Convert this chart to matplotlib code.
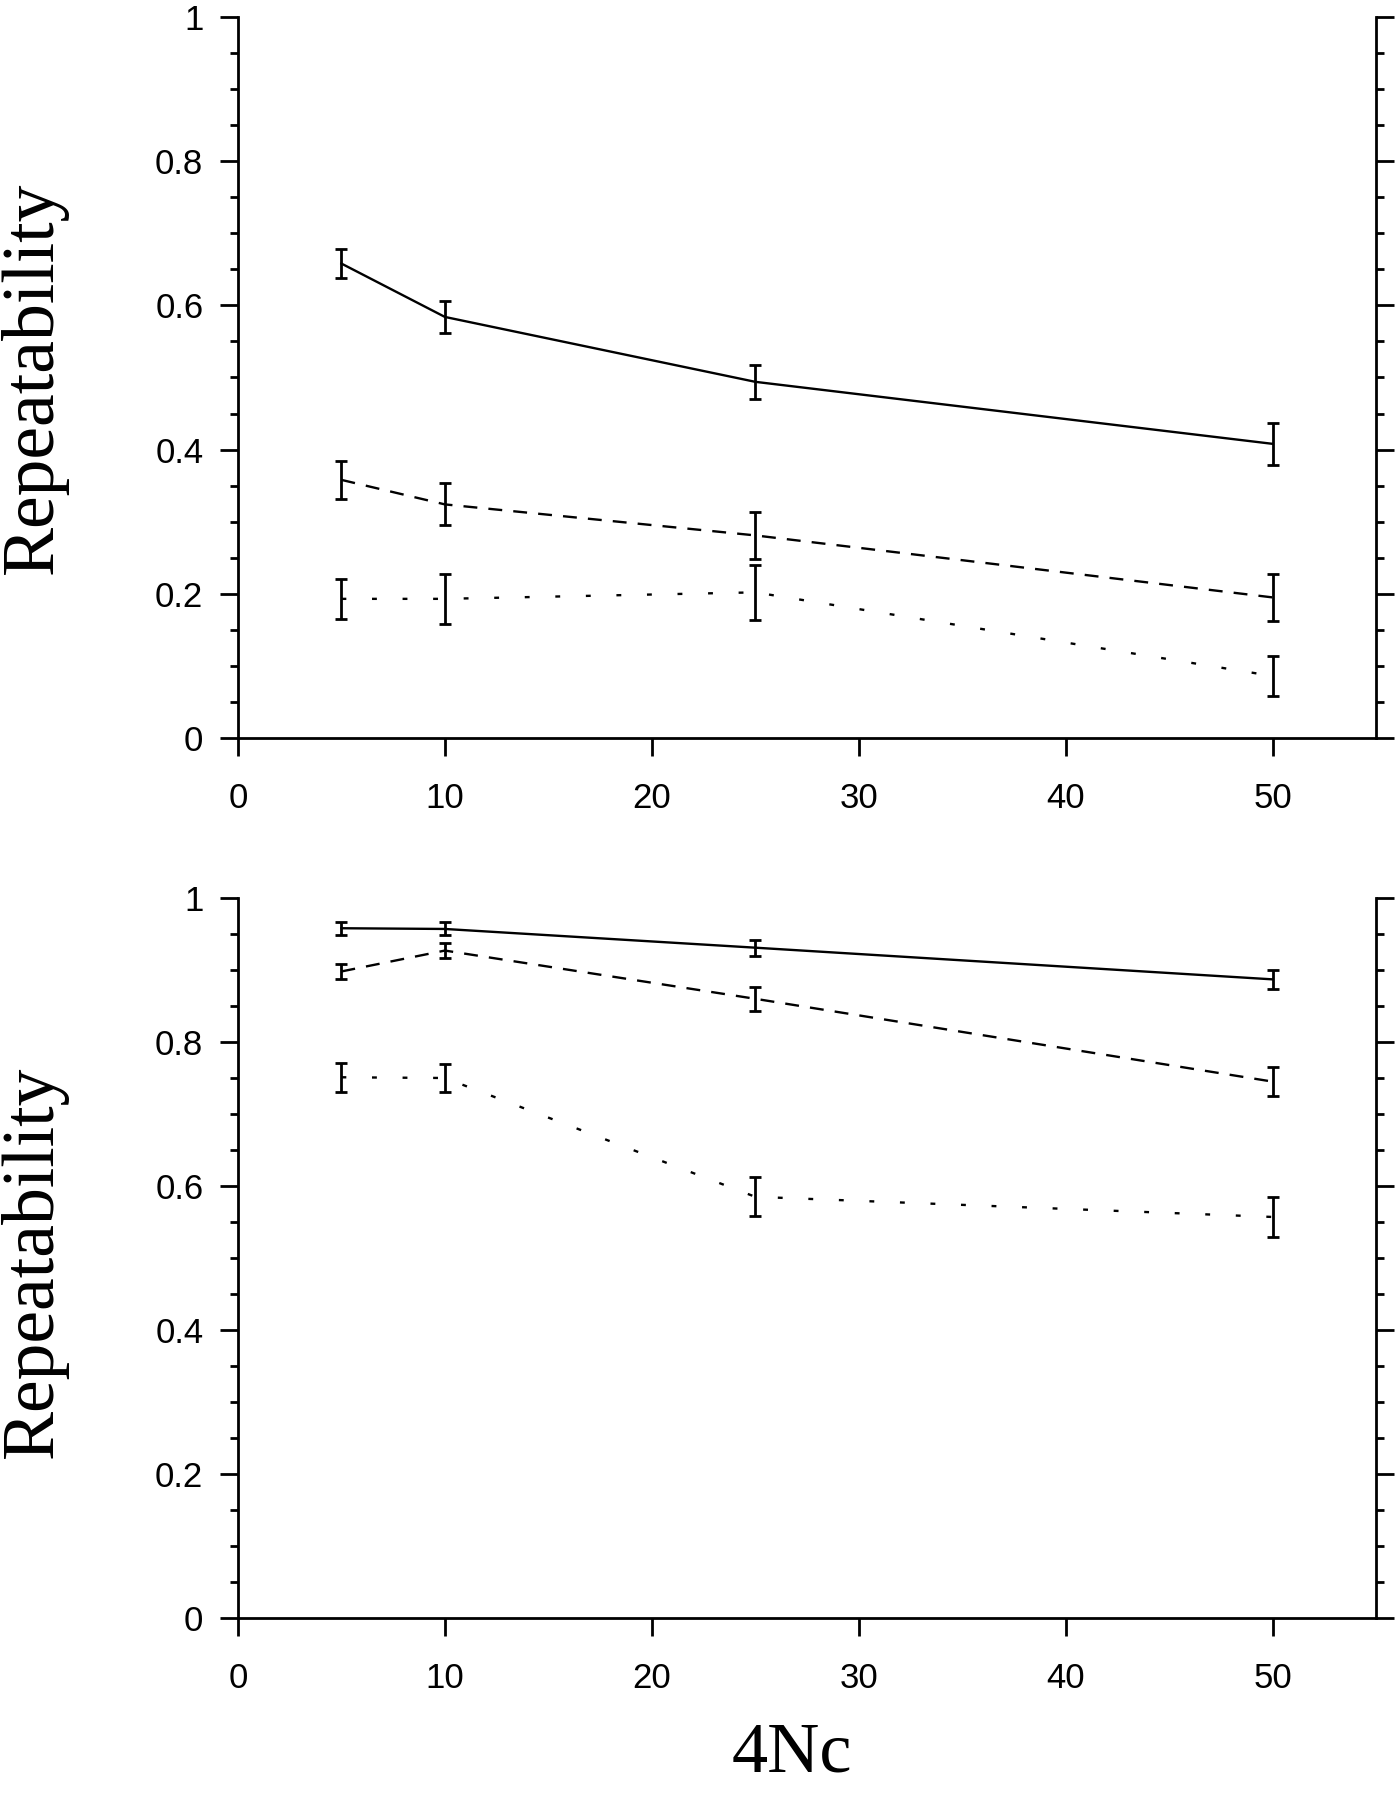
import matplotlib
matplotlib.use("Agg")
import matplotlib.pyplot as plt
from matplotlib.ticker import MultipleLocator

plt.rcParams['lines.scale_dashes'] = False

x_vals = [5, 10, 25, 50]

# Top panel
top_solid = [0.658, 0.584, 0.494, 0.408]
top_solid_err = [0.020, 0.022, 0.024, 0.029]
top_dashed = [0.358, 0.324, 0.281, 0.195]
top_dashed_err = [0.026, 0.029, 0.033, 0.033]
top_dotted = [0.193, 0.193, 0.202, 0.086]
top_dotted_err = [0.028, 0.035, 0.038, 0.028]

# Bottom panel
bot_solid = [0.958, 0.957, 0.931, 0.887]
bot_solid_err = [0.009, 0.009, 0.011, 0.013]
bot_dashed = [0.898, 0.927, 0.860, 0.745]
bot_dashed_err = [0.011, 0.011, 0.017, 0.020]
bot_dotted = [0.751, 0.750, 0.585, 0.557]
bot_dotted_err = [0.020, 0.020, 0.027, 0.028]

x_ticks = [0, 10, 20, 30, 40, 50]
y_ticks = [0, 0.2, 0.4, 0.6, 0.8, 1.0]
y_ticklabels = ['0', '0.2', '0.4', '0.6', '0.8', '1']

W, H = 1398, 1800
fig = plt.figure(figsize=(W / 100, H / 100), dpi=100)

def axes_rect(left_px, right_px, top_px, bottom_px):
    return [left_px / W, 1 - bottom_px / H, (right_px - left_px) / W, (bottom_px - top_px) / H]

ax1 = fig.add_axes(axes_rect(238, 1376, 17, 738))
ax2 = fig.add_axes(axes_rect(238, 1376, 898, 1618))

styles = [
    dict(linestyle='-'),
    dict(dashes=(10, 8)),
    dict(dashes=(3.5, 18.5)),
]

def draw(ax, series):
    for (vals, errs), st in zip(series, styles):
        ax.plot(x_vals, vals, color='black', lw=1.7, **st)
        ax.errorbar(x_vals, vals, yerr=errs, fmt='none', ecolor='black',
                    elinewidth=2.0, capsize=4.5, capthick=2.0)
    ax.set_xlim(0, 55)
    ax.set_ylim(0, 1)
    ax.spines['top'].set_visible(False)
    for s in ['left', 'right', 'bottom']:
        ax.spines[s].set_linewidth(2.0)
    ax.set_xticks(x_ticks)
    ax.set_xticklabels([str(t) for t in x_ticks])
    ax.set_yticks(y_ticks)
    ax.set_yticklabels(y_ticklabels)
    ax.yaxis.set_minor_locator(MultipleLocator(0.05))
    ax.tick_params(axis='y', which='major', direction='out', length=13, width=2.0,
                   left=True, right=True, pad=12, labelsize=25)
    ax.tick_params(axis='y', which='minor', direction='out', length=6, width=2.0,
                   left=True, right=True)
    ax.tick_params(axis='x', which='major', direction='out', length=13, width=2.0,
                   pad=19, labelsize=25)
    for lab in ax.get_xticklabels() + ax.get_yticklabels():
        lab.set_family('Liberation Sans')
    for sp in ax.spines.values():
        sp.set_capstyle('projecting')

draw(ax1, [(top_solid, top_solid_err), (top_dashed, top_dashed_err), (top_dotted, top_dotted_err)])
draw(ax2, [(bot_solid, bot_solid_err), (bot_dashed, bot_dashed_err), (bot_dotted, bot_dotted_err)])

fig.text(34 / W, 1 - 378 / H, 'Repeatability', rotation=90, ha='center', va='center',
         family='Liberation Serif', fontsize=53)
fig.text(34 / W, 1 - 1262 / H, 'Repeatability', rotation=90, ha='center', va='center',
         family='Liberation Serif', fontsize=53)
fig.text(792 / W, 1 - 1772 / H, '4Nc', ha='center', va='baseline',
         family='Liberation Serif', fontsize=52)

fig.savefig('out.png', dpi=100)
